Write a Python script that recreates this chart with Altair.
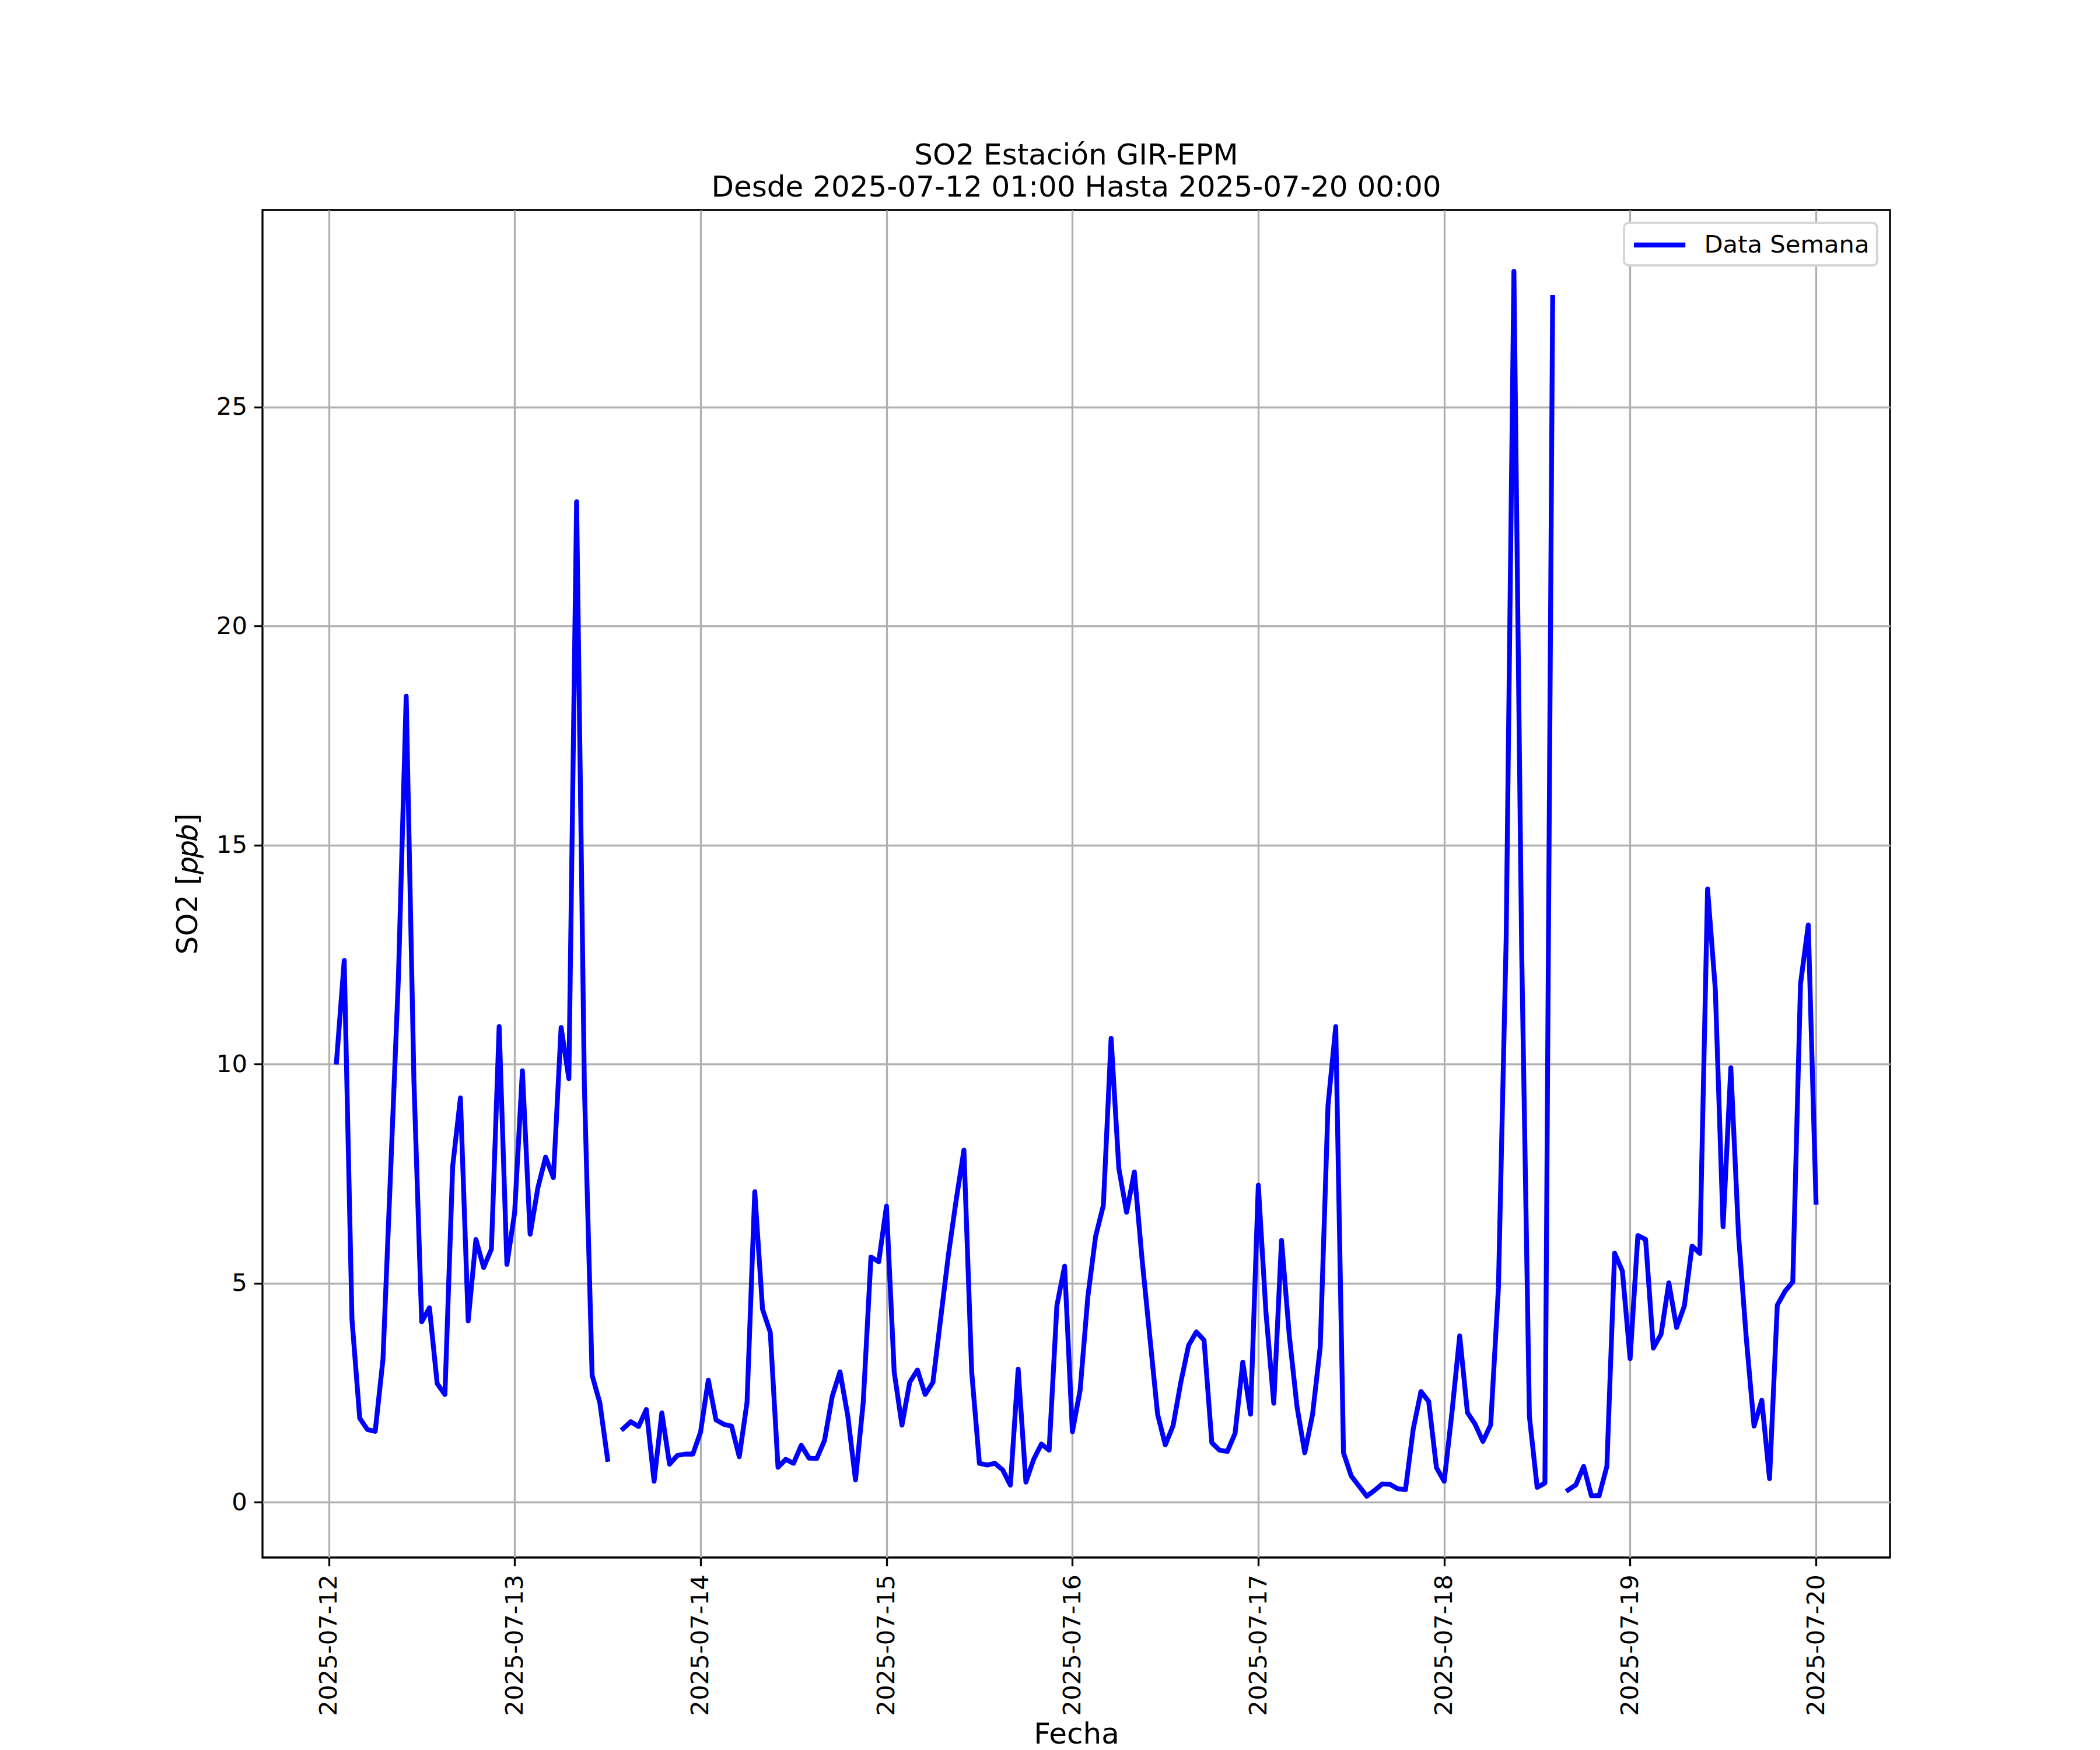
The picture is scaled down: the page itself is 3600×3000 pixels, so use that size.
import altair as alt
import pandas as pd

# Hourly SO2 values (ppb), 2025-07-12 01:00 .. 2025-07-20 00:00; None = missing hour
day_12 = [10.05, 12.37, 4.18, 1.92, 1.66, 1.62, 3.26, 7.6, 12.0, 18.4, 9.6, 4.12,
          4.44, 2.71, 2.46, 7.67, 9.23, 4.14, 6.0, 5.36, 5.78, 10.86, 5.43, 6.61]
day_13 = [9.85, 6.12, 7.18, 7.88, 7.41, 10.84, 9.67, 22.84, 9.52, 2.9, 2.27, 0.98,
          None, 1.68, 1.84, 1.73, 2.12, 0.48, 2.04, 0.87, 1.07, 1.1, 1.1, 1.6]
day_14 = [2.79, 1.88, 1.78, 1.74, 1.04, 2.28, 7.09, 4.41, 3.88, 0.8, 0.98, 0.89,
          1.30, 1.01, 1.0, 1.41, 2.42, 2.98, 1.98, 0.51, 2.28, 5.6, 5.49, 6.76]
day_15 = [2.97, 1.76, 2.74, 3.02, 2.46, 2.74, 4.2, 5.65, 6.9, 8.04, 2.98, 0.89,
          0.85, 0.89, 0.74, 0.39, 3.04, 0.46, 0.98, 1.33, 1.19, 4.49, 5.39, 1.61]
day_16 = [2.56, 4.7, 6.07, 6.78, 10.59, 7.62, 6.62, 7.54, 5.54, 3.77, 2.01, 1.31,
          1.75, 2.74, 3.58, 3.89, 3.7, 1.36, 1.19, 1.16, 1.57, 3.2, 2.01, 7.24]
day_17 = [4.31, 2.26, 5.98, 3.81, 2.18, 1.13, 2.0, 3.55, 9.06, 10.86, 1.13, 0.6,
          0.37, 0.14, 0.27, 0.42, 0.41, 0.31, 0.29, 1.67, 2.53, 2.3, 0.79, 0.48]
day_18 = [2.05, 3.8, 2.05, 1.78, 1.39, 1.77, 4.9, 12.87, 28.1, 12.6, 1.96, 0.34,
          0.44, 27.5, None, 0.28, 0.4, 0.82, 0.15, 0.15, 0.82, 5.69, 5.28, 3.28]
day_19 = [6.09, 6.0, 3.52, 3.84, 5.01, 3.99, 4.48, 5.85, 5.68, 14.0, 11.71, 6.29,
          9.92, 6.09, 3.74, 1.74, 2.33, 0.54, 4.5, 4.82, 5.03, 11.84, 13.18, 6.85]

series_name = "Data Semana"
day_ticks = [12, 13, 14, 15, 16, 17, 18, 19, 20]
y_ticks = [0, 5, 10, 15, 20, 25]

values = day_12 + day_13 + day_14 + day_15 + day_16 + day_17 + day_18 + day_19
times = pd.date_range("2025-07-12 01:00", periods=len(values), freq="h")

rows = []
seg = 0
for t, v in zip(times, values):
    if v is None:
        seg += 1
        continue
    rows.append({"t": t, "so2": v, "seg": seg, "serie": series_name})
df = pd.DataFrame(rows)

FONT = "DejaVu Sans"

line = alt.Chart(df).mark_line(
    strokeWidth=8.3, strokeJoin="round", strokeCap="square"
).encode(
    x=alt.X(
        "t:T",
        title="Fecha",
        scale=alt.Scale(
            domain=[
                alt.DateTime(year=2025, month=7, date=11, hours=15, minutes=27),
                alt.DateTime(year=2025, month=7, date=20, hours=9, minutes=33),
            ]
        ),
        axis=alt.Axis(
            values=[alt.DateTime(year=2025, month=7, date=d) for d in day_ticks],
            format="%Y-%m-%d",
            labelAngle=270,
            labelOverlap=False,
            labelFlush=False,
            labelLimit=0,
            labelPadding=14,
            titleBaseline="alphabetic",
            titleY=318,
        ),
    ),
    y=alt.Y(
        "so2:Q",
        title="SO2 [𝑝𝑝𝑏]",
        scale=alt.Scale(domain=[-1.26, 29.5], nice=False, zero=False),
        axis=alt.Axis(values=y_ticks, labelPadding=12, titlePadding=23, labelLimit=0),
    ),
    color=alt.Color(
        "serie:N",
        scale=alt.Scale(domain=[series_name], range=["#0000ff"]),
        legend=alt.Legend(
            title=None,
            orient="top-right",
            offset=22,
            padding=12.5,
            strokeColor="#d6d6d6",
            cornerRadius=8,
            fillColor="white",
            symbolType="M-1,0H3.2",
            symbolSize=1764,
            symbolStrokeWidth=8.3,
            labelFontSize=41.7,
            labelFont=FONT,
            labelColor="black",
            labelLimit=0,
            labelOffset=74,
        ),
    ),
    detail="seg:N",
    order="t:T",
)

chart = line.properties(
    width=2790,
    height=2310,
    title=alt.TitleParams(
        text=["SO2 Estación GIR-EPM", "Desde 2025-07-12 01:00 Hasta 2025-07-20 00:00"],
        fontSize=50,
        font=FONT,
        fontWeight="normal",
        color="black",
        lineHeight=55,
        anchor="middle",
        offset=13,
    ),
    autosize=alt.AutoSizeParams(type="none"),
    padding={"left": 442, "top": 352, "right": 352, "bottom": 330},
).configure_view(
    stroke="black", strokeWidth=3.3
).configure_legend(
    strokeWidth=4
).configure_axis(
    domain=False,
    grid=True,
    gridColor="#b0b0b0",
    gridWidth=3.3,
    tickColor="black",
    tickWidth=3.3,
    tickSize=14.6,
    labelFont=FONT,
    labelFontSize=41.7,
    labelColor="black",
    titleFont=FONT,
    titleFontSize=50,
    titleFontWeight="normal",
    titleColor="black",
)

chart.save("out.html", embed_options={"renderer": "svg", "actions": False})
